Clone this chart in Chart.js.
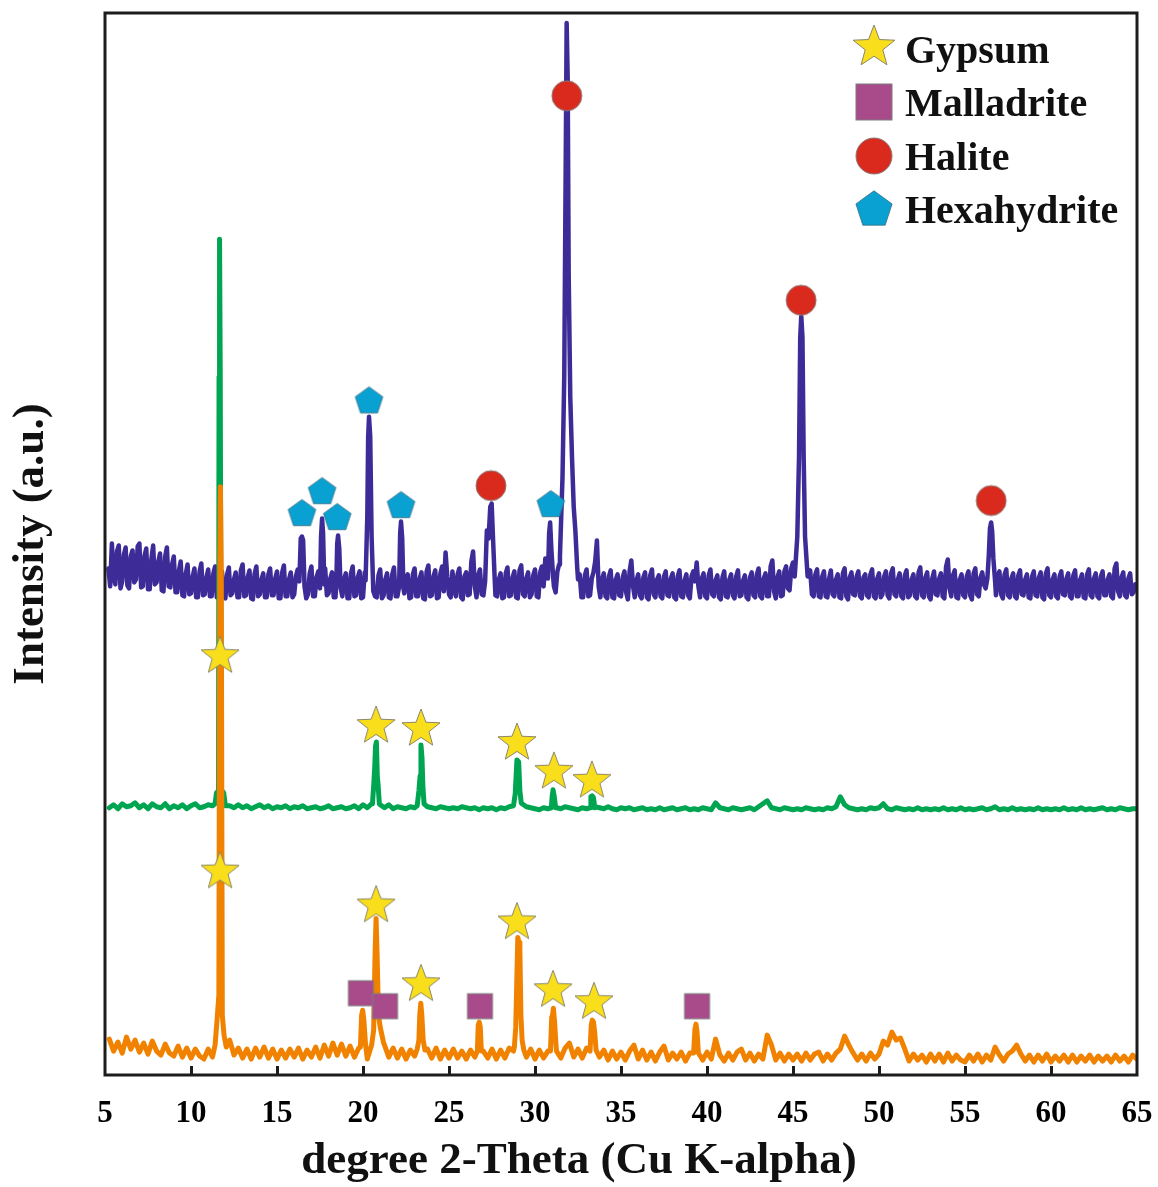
<!DOCTYPE html>
<html><head><meta charset="utf-8">
<script src="https://cdn.jsdelivr.net/npm/chart.js@4.4.1/dist/chart.umd.min.js"></script>
<style>html,body{margin:0;padding:0;background:#fff}#wrap{width:1158px;height:1187px;position:relative}</style>
</head><body><div id="wrap"><canvas id="c"></canvas></div>
<script>
// ---------- axis / text ----------
const xTickValues = [5,10,15,20,25,30,35,40,45,50,55,60,65];
const xTickLabels = ['5','10','15','20','25','30','35','40','45','50','55','60','65'];
const xAxisTitle = 'degree 2-Theta (Cu K-alpha)';
const yAxisTitle = 'Intensity (a.u.)';
const legendLabels = ['Gypsum','Malladrite','Halite','Hexahydrite'];

// ---------- top pattern (purple), offset intensities, 2θ from 5.2 step 0.1 ----------
const purpleStart = 5.2, purpleStep = 0.1;
const purpleBase = [
 508,490,533,500,492,525,531,488,495,522,529,491,488,520,526,494,497,530,533,489,
 490,521,528,487,487,518,531,492,494,515,523,486,485,520,529,490,489,512,520,484,
 484,506,515,481,480,503,512,482,483,500,508,479,479,505,513,481,482,499,507,480,
 480,503,510,479,482,498,505,480,478,502,509,481,483,497,504,479,479,506,512,480,
 481,499,506,478,477,503,510,480,482,497,503,479,479,502,508,481,481,498,505,478,
 478,504,511,480,480,497,504,479,482,500,507,481,479,495,502,478,482,503,510,480,
 480,499,505,478,477,502,508,481,483,498,504,479,479,503,509,480,480,497,503,478,
 478,503,510,480,481,499,505,478,479,504,511,481,482,498,504,480,479,501,507,478,
 481,497,503,479,478,502,509,480,480,499,505,481,483,496,502,478,479,502,508,480,
 480,498,504,478,477,505,511,480,481,500,506,478,479,503,510,485,524,500,482,479,
 505,488,480,502,508,479,477,500,504,481,482,515,525,490,479,501,507,482,481,500,
 505,480,478,504,510,481,480,497,503,478,479,503,509,480,481,499,505,479,478,506,
 511,482,480,498,504,479,482,501,507,480,479,504,510,490,518,500,481,505,513,490,
 484,505,512,495,488,503,509,485,480,499,505,481,482,497,502,479,479,501,507,480,
 481,498,504,515,536,490,479,497,503,480,478,500,506,479,478,497,502,481,480,499,
 505,484,477,505,516,490,479,496,502,481,478,499,504,479,477,501,507,482,479,497,
 501,480,478,500,505,481,480,498,503,479,477,500,506,480,479,496,502,481,478,500,
 505,495,514,490,479,498,503,480,478,501,507,482,480,496,501,479,477,499,505,480,
 479,497,502,481,478,500,506,480,481,496,501,479,477,499,504,481,479,502,508,480,
 478,498,503,480,480,510,516,485,478,499,505,480,481,505,510,488,486,508,514,505,
 520,510,505,530,540,530,520,500,506,482,480,502,507,480,479,500,505,480,479,498,
 506,482,480,497,502,479,478,503,508,480,477,499,504,482,481,500,505,480,478,499,
 502,481,479,502,507,480,478,498,503,479,482,500,505,481,478,503,508,482,480,497,
 503,480,478,501,506,479,481,497,502,480,478,504,509,481,479,499,504,480,477,498,
 505,482,481,498,503,480,478,510,517,488,480,501,506,479,478,497,502,481,479,500,
 505,481,477,503,508,482,480,499,504,492,488,500,505,503,498,490,481,500,505,482,
 478,502,507,481,479,498,503,480,478,501,506,482,481,497,502,479,478,500,505,481,
 480,499,504,479,477,503,508,481,479,497,502,480,478,500,505,482,481,498,503,480,
 478,501,506,480,480,497,502,479,478,502,507,481,479,498,503,480,478,500,505,481,
 481,497,502,480,478,508,513,485,480,499,504,481,479,498,503,482,484,492,490,488
];
const purplePeaks = [
 [[16.3,495],[16.38,538],[16.45,540],[16.52,536],[16.6,490]],
 [[17.5,488],[17.56,540],[17.62,558],[17.68,543],[17.75,492]],
 [[18.45,494],[18.5,533],[18.55,541],[18.62,528],[18.7,488]],
 [[20.15,496],[20.25,560],[20.3,640],[20.35,660],[20.42,640],[20.5,540],[20.6,485]],
 [[22.1,490],[22.16,543],[22.21,555],[22.28,538],[22.35,488]],
 [[27.1,495],[27.2,546],[27.3,538],[27.4,570],[27.48,573],[27.56,538],[27.65,500]],
 [[30.75,498],[30.82,543],[30.88,554],[30.95,528],[31.05,500]],
 [[31.45,520],[31.6,600],[31.7,700],[31.78,900],[31.84,1055],[31.9,1000],[31.96,800],[32.05,680],[32.15,620],[32.25,570],[32.35,545],[32.45,510]],
 [[45.1,500],[45.25,540],[45.35,620],[45.42,740],[45.48,761],[45.55,740],[45.62,620],[45.7,540],[45.85,500]],
 [[56.3,498],[56.38,520],[56.45,548],[56.52,554],[56.58,545],[56.65,518],[56.75,495]]
];

// ---------- middle pattern (green), 2θ from 5.25 step 0.25 ----------
const greenStart = 5.25, greenStep = 0.25;
const greenBase = [
 268,271,267,272,269,270,273,268,
 271,267,272,269,268,272,267,270,
 268,271,267,270,272,268,269,271,
 270,280,282,275,270,268,271,268,
 270,267,269,271,268,270,267,269,
 268,270,267,269,268,270,267,268,
 269,267,268,270,267,268,269,267,
 268,270,267,271,268,272,275,271,
 268,271,267,269,268,267,269,268,
 280,285,269,268,267,269,268,267,
 268,267,269,268,267,268,266,268,
 267,268,266,268,267,269,268,282,
 272,269,268,267,266,268,267,270,
 268,267,269,268,267,266,268,267,
 275,269,268,267,269,267,266,268,
 267,268,266,267,268,266,267,266,
 268,266,267,268,266,267,268,266,
 267,266,268,267,266,273,268,267,
 266,268,267,266,267,268,266,269,
 272,275,268,267,266,268,267,266,
 267,266,268,267,266,267,266,268,
 267,269,279,271,268,267,266,267,
 266,268,267,268,272,267,266,268,
 267,266,267,266,268,266,267,266,
 267,266,268,266,267,266,268,266,
 267,266,267,268,266,267,269,266,
 267,266,268,266,267,266,267,266,
 268,266,267,266,267,266,268,266,
 267,266,268,266,267,266,267,268,
 266,267,266,268,267,266,267,267
];
const greenPeaks = [
 [[11.4,272],[11.48,283],[11.6,285],[11.63,700],[11.66,838],[11.7,700],[11.76,286],[11.9,283],[12.0,270]],
 [[20.55,272],[20.62,290],[20.68,308],[20.73,330],[20.78,334],[20.83,300],[20.88,290],[20.95,272]],
 [[23.15,270],[23.25,285],[23.32,300],[23.37,331],[23.43,318],[23.48,290],[23.55,272]],
 [[28.75,270],[28.85,282],[28.95,316],[29.05,314],[29.12,285],[29.2,273]],
 [[30.95,268],[31.0,280],[31.05,286],[31.12,279],[31.2,268]],
 [[33.2,268],[33.25,279],[33.32,280],[33.4,278],[33.48,268]]
];

// ---------- bottom pattern (orange), 2θ from 5.25 step 0.25 ----------
const orangeStart = 5.25, orangeStep = 0.25;
const orangeBase = [
 36,24,33,22,38,26,35,23,
 32,21,34,24,20,31,22,19,
 29,18,27,17,26,19,16,26,
 18,27,40,50,35,20,27,17,
 26,16,27,18,28,17,26,16,
 25,17,26,18,27,16,25,18,
 28,17,30,19,32,20,31,19,
 29,18,27,40,16,120,45,38,
 30,18,27,17,26,16,25,19,
 30,60,26,17,27,16,25,17,
 26,17,24,16,25,18,50,24,
 17,26,16,25,17,27,24,100,
 35,18,26,16,25,17,24,55,
 24,17,27,32,18,26,17,27,
 50,35,18,25,15,24,16,23,
 15,24,30,16,25,15,23,14,
 23,29,15,22,16,23,14,22,
 40,25,15,23,16,36,20,14,
 22,15,23,26,15,22,14,21,
 16,40,30,15,22,14,21,15,
 21,14,22,15,21,23,14,21,
 15,22,26,39,30,22,15,21,
 14,22,16,21,34,30,43,35,
 37,26,14,21,15,20,13,21,
 14,21,13,22,14,20,15,13,
 20,14,21,13,20,15,28,20,
 14,21,24,30,21,14,20,13,
 20,14,21,13,19,14,20,13,
 20,13,19,14,20,13,19,14,
 19,13,20,14,19,13,20,16
];
const orangePeaks = [
 [[11.4,30],[11.5,52],[11.62,80],[11.67,500],[11.71,590],[11.76,500],[11.82,60],[11.92,40],[12.05,28]],
 [[19.85,28],[19.92,60],[19.98,65],[20.05,55],[20.15,30]],
 [[20.5,30],[20.62,45],[20.7,120],[20.76,157],[20.82,120],[20.9,60],[21.0,48],[21.1,40],[21.2,32]],
 [[23.15,26],[23.25,35],[23.3,60],[23.36,72],[23.42,60],[23.5,35],[23.6,25]],
 [[26.65,24],[26.7,50],[26.76,53],[26.82,48],[26.88,24]],
 [[28.8,28],[28.88,48],[28.95,100],[29.0,138],[29.07,133],[29.12,126],[29.18,60],[29.25,35],[29.35,25]],
 [[30.9,24],[30.97,58],[31.02,60],[31.07,67],[31.14,53],[31.22,30]],
 [[33.2,24],[33.27,50],[33.33,55],[33.4,53],[33.47,43],[33.55,25]],
 [[39.22,22],[39.3,46],[39.36,51],[39.42,43],[39.5,22]]
];

// ---------- phase markers ----------
const gypsumX = [11.69,20.76,23.37,28.95,31.10,33.31, 11.69,20.76,23.37,28.95,31.05,33.43];
const gypsumY = [420,350,347,333,304,295, 204,170,91,153,85,73];
const malladriteX = [19.88,21.28,26.80,39.42];
const malladriteY = [82,69,69,69];
const haliteX = [27.44,31.85,45.47,56.52];
const haliteY = [591,982,777,576];
const hexahydriteX = [16.45,17.62,18.50,20.35,22.21,30.92];
const hexahydriteY = [564,586,560,677,572,573];

// ---------- assembly ----------
function buildSeries(start, step, base, peaks) {
  const pts = [];
  base.forEach((v, i) => {
    const x = +(start + i * step).toFixed(3);
    const inPeak = peaks.some(p => x >= p[0][0] && x <= p[p.length - 1][0]);
    if (!inPeak) pts.push({x, y: v});
  });
  peaks.forEach(p => p.forEach(([x, y]) => pts.push({x, y})));
  pts.sort((a, b) => a.x - b.x);
  return pts;
}
const pairs = (xs, ys) => xs.map((x, i) => ({x, y: ys[i]}));

function shapeCanvas(size, draw) {
  const c = document.createElement('canvas');
  c.width = c.height = size;
  const g = c.getContext('2d');
  g.translate(size / 2, size / 2);
  draw(g);
  return c;
}
function starImg(R) {
  return shapeCanvas(Math.ceil(2 * R + 4), g => {
    g.beginPath();
    for (let i = 0; i < 10; i++) {
      const a = -Math.PI / 2 + i * Math.PI / 5;
      const rr = i % 2 ? R * 0.42 : R;
      g.lineTo(rr * Math.cos(a), rr * Math.sin(a));
    }
    g.closePath();
    g.fillStyle = '#F9DE1C'; g.fill();
    g.lineWidth = 1; g.strokeStyle = '#8a8668'; g.stroke();
  });
}
function pentImg(R) {
  return shapeCanvas(Math.ceil(2 * R + 4), g => {
    g.translate(0, 0.095 * R);
    g.beginPath();
    for (let i = 0; i < 5; i++) {
      const a = -Math.PI / 2 + i * 2 * Math.PI / 5;
      g.lineTo(R * Math.cos(a), R * Math.sin(a));
    }
    g.closePath();
    g.fillStyle = '#08A1D2'; g.fill();
    g.lineWidth = 0.8; g.strokeStyle = '#3a6d84'; g.stroke();
  });
}
function squareImg(a) {
  return shapeCanvas(Math.ceil(a + 4), g => {
    g.fillStyle = '#A94A8B'; g.fillRect(-a / 2, -a / 2, a, a);
    g.lineWidth = 1; g.strokeStyle = '#7d7d7d'; g.strokeRect(-a / 2, -a / 2, a, a);
  });
}
function circleImg(r) {
  return shapeCanvas(Math.ceil(2 * r + 4), g => {
    g.beginPath(); g.arc(0, 0, r, 0, Math.PI * 2);
    g.fillStyle = '#DA2A1D'; g.fill();
    g.lineWidth = 1; g.strokeStyle = '#8a7a78'; g.stroke();
  });
}

const styles = {
  star: starImg(20), square: squareImg(25), circle: circleImg(15), pent: pentImg(14.5)
};
const legendStyles = [starImg(22), squareImg(36), circleImg(18), pentImg(19)];

const FONT = "'Liberation Serif','Times New Roman',serif";

const framePlugin = {
  id: 'frame',
  afterDraw(chart) {
    const {ctx, chartArea: a, scales} = chart;
    ctx.save();
    ctx.strokeStyle = '#1c1c1c';
    ctx.lineWidth = 3;
    ctx.strokeRect(a.left, a.top, a.right - a.left, a.bottom - a.top);
    ctx.beginPath();
    xTickValues.forEach(v => {
      if (v <= 5 || v >= 65) return;
      const px = Math.round(scales.x.getPixelForValue(v)) + 0.5;
      ctx.moveTo(px, a.bottom);
      ctx.lineTo(px, a.bottom - 9);
    });
    ctx.stroke();
    // x axis title (offset left of centre as in the original figure)
    ctx.fillStyle = '#111';
    ctx.font = 'bold 45px ' + FONT;
    ctx.textAlign = 'center';
    ctx.textBaseline = 'middle';
    ctx.fillText(xAxisTitle, a.left + 474, a.bottom + 86);
    ctx.restore();
  }
};
const legendPlugin = {
  id: 'phaseLegend',
  afterDraw(chart) {
    const {ctx, chartArea: a} = chart;
    const mx = a.right - 263, tx = a.right - 232;
    const markerY = [34, 89, 143, 195];
    const baseY = [50, 103, 157, 210];
    ctx.save();
    ctx.fillStyle = '#111';
    ctx.font = 'bold 40px ' + FONT;
    ctx.textBaseline = 'alphabetic';
    ctx.textAlign = 'left';
    legendLabels.forEach((lab, i) => {
      const img = legendStyles[i];
      ctx.drawImage(img, Math.round(mx - img.width / 2), Math.round(a.top + markerY[i] - img.height / 2));
      ctx.fillText(lab, tx, a.top + baseY[i]);
    });
    ctx.restore();
  }
};

const lineDs = (label, data, color, w) => ({
  label, data, showLine: true, borderColor: color, backgroundColor: color,
  borderWidth: w, pointRadius: 0, tension: 0, fill: false,
  borderJoinStyle: 'round', borderCapStyle: 'round'
});
const markDs = (label, data, style) => ({
  label, data, showLine: false, pointStyle: style, pointRadius: 12, pointHoverRadius: 12
});

new Chart(document.getElementById('c'), {
  type: 'scatter',
  data: {
    datasets: [
      markDs(legendLabels[0], pairs(gypsumX, gypsumY), styles.star),
      markDs(legendLabels[1], pairs(malladriteX, malladriteY), styles.square),
      markDs(legendLabels[2], pairs(haliteX, haliteY), styles.circle),
      markDs(legendLabels[3], pairs(hexahydriteX, hexahydriteY), styles.pent),
      lineDs('Bottom pattern', buildSeries(orangeStart, orangeStep, orangeBase, orangePeaks), '#F08200', 5),
      lineDs('Middle pattern', buildSeries(greenStart, greenStep, greenBase, greenPeaks), '#00A551', 5),
      lineDs('Top pattern', buildSeries(purpleStart, purpleStep, purpleBase, purplePeaks), '#3D2C97', 4.5)
    ]
  },
  options: {
    responsive: true, maintainAspectRatio: false, animation: false, events: [],
    layout: {padding: {top: 10, right: 21, bottom: 0, left: 0}},
    plugins: {legend: {display: false}, tooltip: {enabled: false}},
    scales: {
      x: {
        type: 'linear', min: 5, max: 65,
        grid: {display: false, drawTicks: false}, border: {display: false},
        ticks: {
          stepSize: 5, autoSkip: false, maxRotation: 0, minRotation: 0, padding: 20,
          color: '#000', font: {family: FONT, size: 31, weight: 'bold'},
          callback: v => { const i = xTickValues.indexOf(v); return i >= 0 ? xTickLabels[i] : ''; }
        },
        title: {display: false, text: xAxisTitle},
        afterFit: s => { s.height = 112; s.paddingLeft = 0; s.paddingRight = 0; }
      },
      y: {
        min: 0, max: 1065,
        grid: {display: false, drawTicks: false}, border: {display: false},
        ticks: {display: false},
        title: {display: true, text: yAxisTitle, color: '#111',
          font: {family: FONT, size: 45, weight: 'bold'}, padding: {top: 4, bottom: 0}},
        afterFit: s => { s.width = 105; }
      }
    }
  },
  plugins: [framePlugin, legendPlugin]
});
</script>
</body></html>
